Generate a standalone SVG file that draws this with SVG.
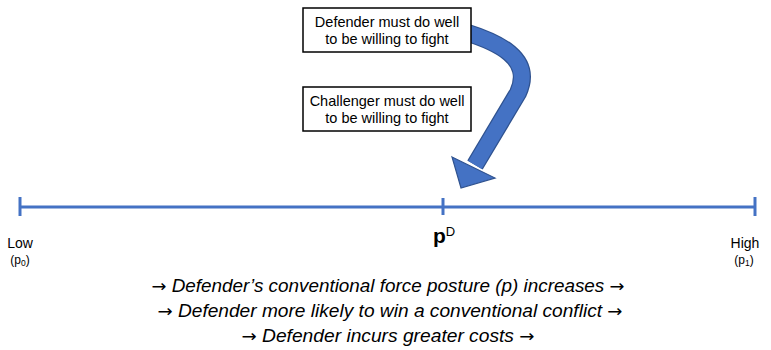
<svg xmlns="http://www.w3.org/2000/svg" width="771" height="350" viewBox="0 0 771 350">
  <style>
    .box { fill: #ffffff; stroke: #000000; stroke-width: 1.5; }
    .boxtext { font-family: "Liberation Sans", Arial, sans-serif; font-size: 14.5px; fill: #000000; text-anchor: middle; }
    .axis { stroke: #4472C4; stroke-width: 3; fill: none; }
    .label { font-family: "Liberation Sans", Arial, sans-serif; font-size: 14px; fill: #000000; text-anchor: middle; }
    .sub { font-family: "Liberation Sans", Arial, sans-serif; font-size: 12px; fill: #000000; text-anchor: middle; }
    .caption { font-family: "Liberation Sans", Arial, sans-serif; font-size: 18px; font-style: italic; fill: #000000; text-anchor: middle; }
    .arr { font-family: "DejaVu Sans", sans-serif; font-style: normal; font-size: 17px; }
  </style>

  <!-- curved block arrow -->
  <g id="connectors">
    <path d="M465,32 C497,42 534,58 518,93 L475,165" fill="none" stroke="#2F528F" stroke-width="18" stroke-linejoin="round"/>
    <path d="M465,32 C497,42 534,58 518,93 L475,165" fill="none" stroke="#4472C4" stroke-width="15.5" stroke-linejoin="round"/>
    <polygon points="452,157 495,178 461,188" fill="#4472C4" stroke="#2F528F" stroke-width="1.2" stroke-linejoin="miter"/>
  </g>

  <g id="defender-box">
    <rect class="box" x="303" y="8" width="168" height="44"/>
    <text class="boxtext" x="387" y="27">Defender must do well</text>
    <text class="boxtext" x="387" y="44">to be willing to fight</text>
  </g>

  <g id="challenger-box">
    <rect class="box" x="303" y="87" width="168" height="44"/>
    <text class="boxtext" x="387" y="106">Challenger must do well</text>
    <text class="boxtext" x="387" y="123">to be willing to fight</text>
  </g>

  <!-- force posture axis -->
  <g id="axis">
    <line class="axis" x1="20" y1="207" x2="755" y2="207"/>
    <line class="axis" x1="20" y1="197" x2="20" y2="216"/>
    <line class="axis" x1="443" y1="198" x2="443" y2="215"/>
    <line class="axis" x1="755" y1="197" x2="755" y2="216"/>
  </g>

  <g id="low-label">
    <text class="label" x="20" y="248">Low</text>
    <text class="sub" x="20" y="264">(p<tspan font-size="8.5" dy="2">0</tspan><tspan dy="-2">)</tspan></text>
  </g>

  <g id="high-label">
    <text class="label" x="745" y="248">High</text>
    <text class="sub" x="744" y="264">(p<tspan font-size="8.5" dy="2">1</tspan><tspan dy="-2">)</tspan></text>
  </g>

  <g id="pd-label">
    <text x="433" y="243" font-family="Liberation Sans, Arial, sans-serif" font-size="21" font-weight="bold" fill="#000000">p<tspan font-size="13" font-weight="normal" dy="-7">D</tspan></text>
  </g>

  <g id="captions">
    <text class="caption" x="388" y="292" textLength="473" lengthAdjust="spacingAndGlyphs"><tspan class="arr">→</tspan> Defender’s conventional force posture (p) increases <tspan class="arr">→</tspan></text>
    <text class="caption" x="390" y="317" textLength="465" lengthAdjust="spacingAndGlyphs"><tspan class="arr">→</tspan> Defender more likely to win a conventional conflict <tspan class="arr">→</tspan></text>
    <text class="caption" x="388" y="342" textLength="293" lengthAdjust="spacingAndGlyphs"><tspan class="arr">→</tspan> Defender incurs greater costs <tspan class="arr">→</tspan></text>
  </g>
</svg>
